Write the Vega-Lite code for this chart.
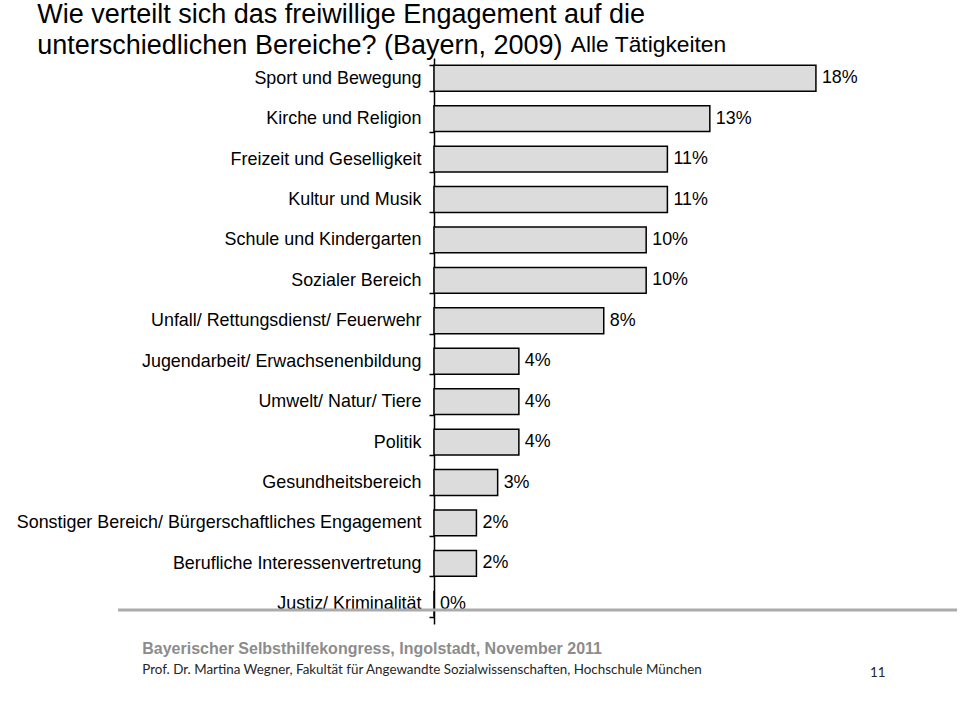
{
  "$schema": "https://vega.github.io/schema/vega-lite/v6.json",
  "padding": {"left": 16, "top": 1, "right": 0, "bottom": 0},
  "background": "white",
  "config": {"view": {"stroke": null}, "font": "Liberation Sans"},
  "title": {
    "text": ["Wie verteilt sich das freiwillige Engagement auf die", "unterschiedlichen Bereiche? (Bayern, 2009)"],
    "anchor": "start",
    "fontSize": 27,
    "fontWeight": "normal",
    "color": "#000000",
    "font": "Liberation Sans",
    "lineHeight": 31,
    "offset": -27,
    "dx": 21
  },
  "vconcat": [
    {
      "width": 446,
      "height": 566,
      "data": {
        "values": [
          {"bereich": "Sport und Bewegung", "anteil": 0.18},
          {"bereich": "Kirche und Religion", "anteil": 0.13},
          {"bereich": "Freizeit und Geselligkeit", "anteil": 0.11},
          {"bereich": "Kultur und Musik", "anteil": 0.11},
          {"bereich": "Schule und Kindergarten", "anteil": 0.10},
          {"bereich": "Sozialer Bereich", "anteil": 0.10},
          {"bereich": "Unfall/ Rettungsdienst/ Feuerwehr", "anteil": 0.08},
          {"bereich": "Jugendarbeit/ Erwachsenenbildung", "anteil": 0.04},
          {"bereich": "Umwelt/ Natur/ Tiere", "anteil": 0.04},
          {"bereich": "Politik", "anteil": 0.04},
          {"bereich": "Gesundheitsbereich", "anteil": 0.03},
          {"bereich": "Sonstiger Bereich/ Bürgerschaftliches Engagement", "anteil": 0.02},
          {"bereich": "Berufliche Interessenvertretung", "anteil": 0.02},
          {"bereich": "Justiz/ Kriminalität", "anteil": 0.0}
        ]
      },
      "title": {
        "text": "Bayerischer Selbsthilfekongress, Ingolstadt, November 2011",
        "subtitle": "Prof. Dr. Martina Wegner, Fakultät für Angewandte Sozialwissenschaften, Hochschule München",
        "orient": "bottom",
        "anchor": "start",
        "font": "Liberation Sans",
        "fontSize": 16,
        "fontWeight": "bold",
        "color": "#8c8c8c",
        "subtitleFont": "Lato",
        "subtitleFontSize": 13.4,
        "subtitleColor": "#262626",
        "subtitlePadding": 6,
        "offset": -37,
        "dx": 126
      },
      "layer": [
        {
          "mark": {"type": "bar", "fill": "#dcdcdc", "stroke": "#000000", "strokeWidth": 1.5},
          "encoding": {
            "y": {
              "field": "bereich",
              "type": "nominal",
              "sort": null,
              "scale": {"paddingInner": 0.36, "paddingOuter": 0.18},
              "axis": {
                "title": null,
                "labelFont": "Liberation Sans",
                "labelFontSize": 17.9,
                "labelColor": "#000000",
                "labelPadding": 8,
                "labelLimit": 0,
                "tickSize": 5,
                "tickBand": "extent",
                "tickColor": "#000000",
                "tickWidth": 1.5,
                "domainColor": "#000000",
                "domainWidth": 1.5,
                "grid": false
              }
            },
            "x": {
              "field": "anteil",
              "type": "quantitative",
              "scale": {"domain": [0, 0.2102], "nice": false, "zero": false},
              "axis": {
                "orient": "top",
                "title": "Alle Tätigkeiten",
                "titleFont": "Liberation Sans",
                "titleFontSize": 22.8,
                "titleFontWeight": "normal",
                "titleColor": "#000000",
                "titlePadding": 2,
                "titleX": 214,
                "titleAlign": "center",
                "labels": false,
                "ticks": false,
                "domain": false,
                "grid": false
              }
            }
          }
        },
        {
          "mark": {"type": "text", "align": "left", "baseline": "middle", "dx": 6, "fontSize": 17.9, "font": "Liberation Sans", "color": "#000000"},
          "encoding": {
            "y": {"field": "bereich", "type": "nominal", "sort": null},
            "x": {
              "field": "anteil",
              "type": "quantitative",
              "scale": {"domain": [0, 0.2102], "nice": false, "zero": false},
              "axis": {
                "orient": "bottom",
                "title": null,
                "values": [0.2089],
                "labelExpr": "'11'",
                "labelFont": "Lato",
                "labelFontSize": 13.4,
                "labelColor": "#262626",
                "labelPadding": 41,
                "labelFlush": false,
                "ticks": false,
                "domain": false,
                "grid": false
              }
            },
            "text": {"field": "anteil", "type": "quantitative", "format": ".0%"}
          }
        },
        {
          "transform": [{"filter": "datum.bereich === 'Justiz/ Kriminalität'"}],
          "mark": {"type": "rule", "color": "#ababab", "strokeWidth": 3},
          "encoding": {
            "x": {"datum": -0.1489, "type": "quantitative", "scale": {"domain": [0, 0.2102], "nice": false, "zero": false}, "axis": null},
            "x2": {"datum": 0.2465},
            "y": {"field": "bereich", "type": "nominal", "sort": null, "bandPosition": 0.74}
          }
        }
      ],
      "resolve": {"axis": {"x": "independent"}}
    }
  ]
}
